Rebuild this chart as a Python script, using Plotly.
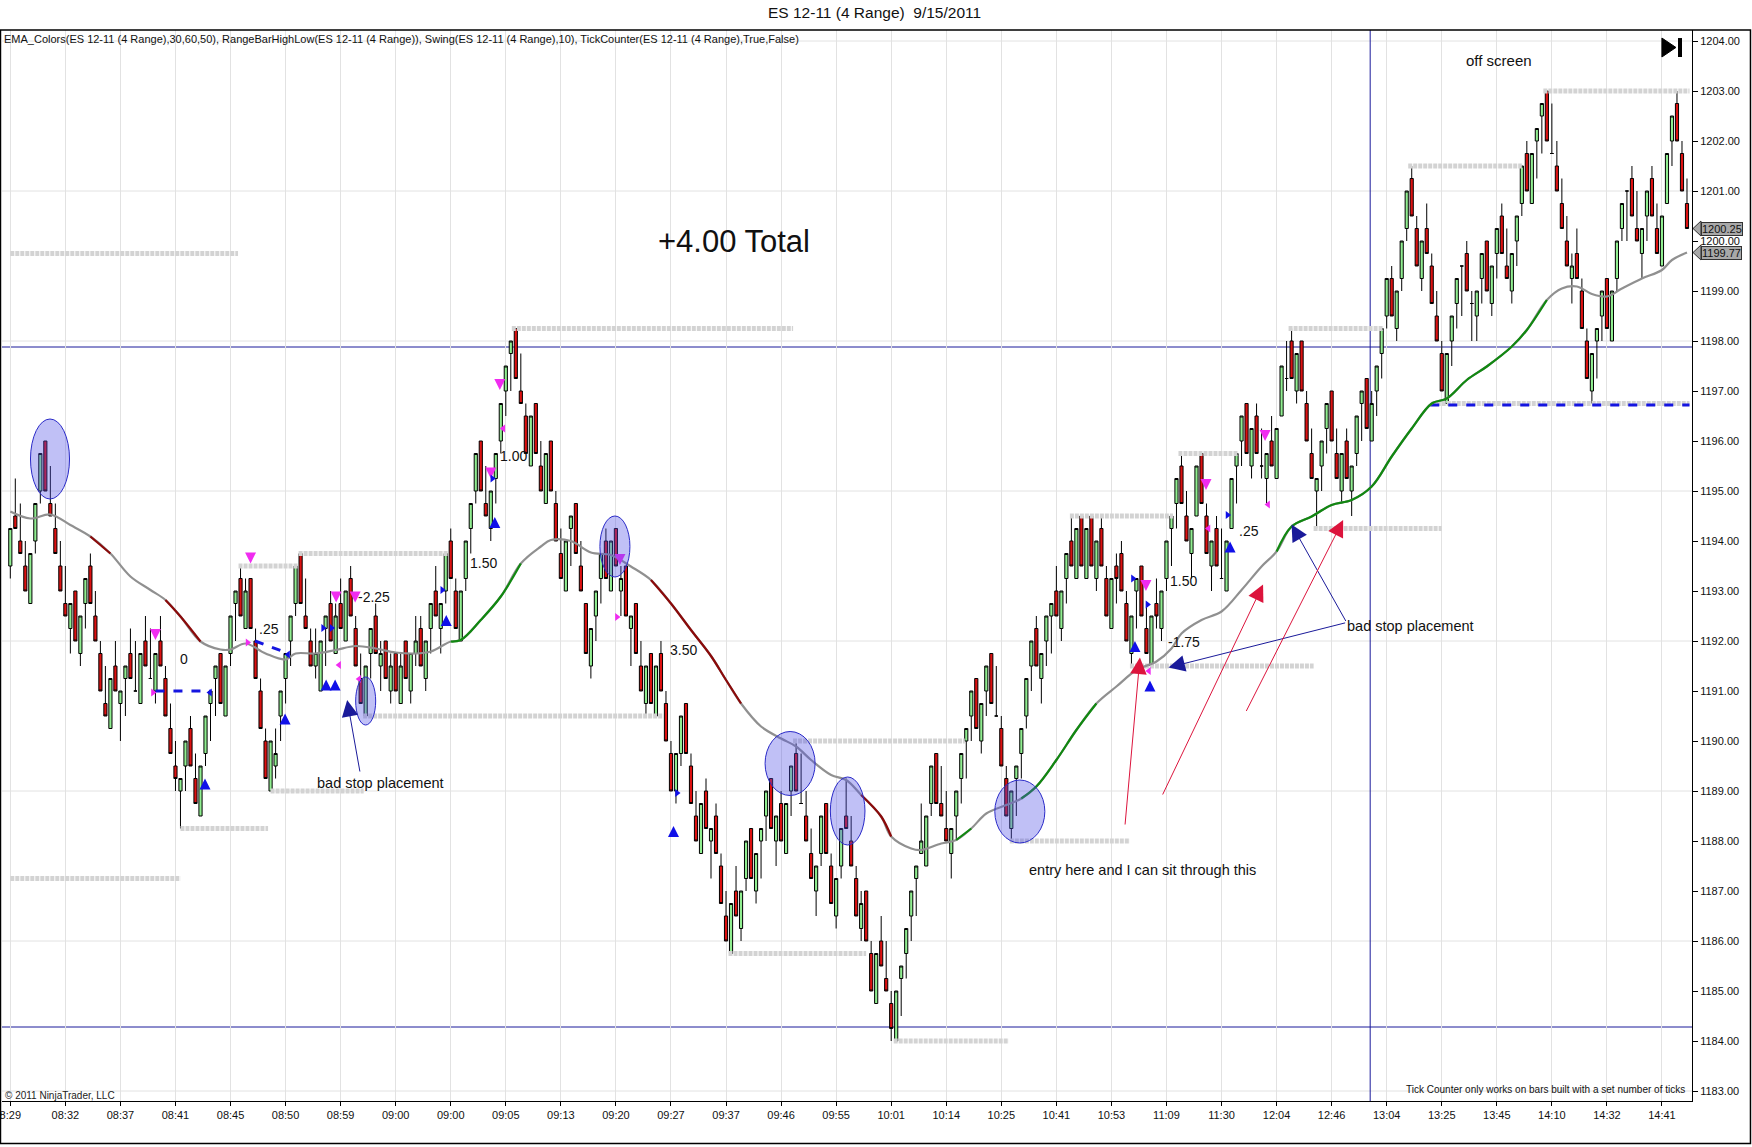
import plotly.graph_objects as go

# ES 12-11 (4 Range) 9/15/2011 - bar values
opens = [
    1193.5, 1194.5, 1194.0, 1193.5, 1192.75, 1194.0, 1195.0, 1196.0, 1194.75, 1194.25, 1193.5,
    1192.75, 1192.25, 1193.0, 1191.75, 1192.75, 1193.5, 1192.5, 1191.75, 1190.75, 1190.25, 1191.5,
    1190.75, 1191.25, 1191.75, 1191.0, 1190.75, 1192.0, 1191.25, 1191.0, 1192.0, 1191.25, 1190.25,
    1189.5, 1189.0, 1189.5, 1190.25, 1189.25, 1188.5, 1189.75, 1190.75, 1191.25, 1191.75, 1190.5,
    1191.75, 1192.75, 1193.25, 1192.25, 1193.25, 1192.0, 1191.0, 1190.0, 1189.0, 1189.5, 1190.5,
    1191.25, 1192.0, 1192.75, 1193.75, 1192.5, 1192.0, 1191.5, 1191.0, 1192.25, 1192.75, 1191.75,
    1192.75, 1192.0, 1193.25, 1192.25, 1191.25, 1190.5, 1191.75, 1192.5, 1191.5, 1192.0, 1191.0,
    1191.75, 1190.75, 1192.0, 1191.0, 1191.75, 1192.25, 1191.25, 1192.25, 1193.0, 1192.25, 1193.0,
    1194.0, 1193.0, 1192.0, 1193.25, 1194.25, 1195.0, 1196.0, 1194.75, 1194.25, 1195.25, 1196.0,
    1197.0, 1197.75, 1198.25, 1197.0, 1196.5, 1195.5, 1196.75, 1195.5, 1194.75, 1196.0, 1194.75,
    1193.75, 1193.0, 1194.25, 1194.75, 1193.5, 1192.75, 1191.5, 1192.5, 1193.25, 1194.0, 1193.0,
    1194.25, 1193.0, 1193.5, 1192.25, 1192.75, 1191.5, 1190.75, 1191.75, 1190.5, 1191.75, 1190.75,
    1189.75, 1189.0, 1189.75, 1190.75, 1189.5, 1188.5, 1187.75, 1189.0, 1188.0, 1188.5, 1187.5,
    1186.5, 1185.75, 1187.0, 1186.25, 1187.25, 1188.25, 1187.0, 1188.0, 1188.5, 1189.25, 1188.0,
    1188.75, 1187.75, 1189.0, 1189.75, 1188.75, 1188.5, 1187.75, 1187.0, 1187.75, 1188.75, 1187.5,
    1186.5, 1187.5, 1188.5, 1188.0, 1187.25, 1186.25, 1187.0, 1185.75, 1184.75, 1186.0, 1185.25,
    1184.75, 1184.0, 1185.25, 1185.75, 1186.5, 1187.25, 1187.75, 1187.5, 1188.75, 1189.75, 1188.75,
    1188.25, 1187.75, 1188.5, 1189.25, 1190.0, 1190.5, 1191.25, 1190.0, 1191.0, 1191.75, 1190.5,
    1190.25, 1189.25, 1188.25, 1189.25, 1189.75, 1190.5, 1191.5, 1192.25, 1191.25, 1192.0, 1192.5,
    1193.0, 1192.25, 1193.25, 1194.0, 1193.25, 1194.5, 1193.25, 1194.5, 1193.25, 1194.25, 1193.25,
    1192.25, 1193.5, 1193.75, 1192.75, 1191.75, 1193.0, 1193.5, 1192.25, 1191.5, 1192.75, 1192.25,
    1193.25, 1194.25, 1194.75, 1195.5, 1194.5, 1193.75, 1194.5, 1195.75, 1194.5, 1193.5, 1194.25,
    1193.25, 1193.0, 1194.25, 1195.5, 1196.0, 1196.75, 1195.5, 1196.5, 1195.5, 1195.25, 1196.0,
    1195.25, 1196.5, 1197.25, 1198.0, 1197.0, 1198.0, 1196.75, 1195.75, 1195.0, 1195.5, 1196.25,
    1197.0, 1195.75, 1195.0, 1196.0, 1195.0, 1195.75, 1196.75, 1197.25, 1196.0, 1197.0, 1197.75,
    1198.5, 1199.25, 1198.25, 1199.25, 1200.25, 1201.25, 1200.25, 1199.25, 1200.25, 1199.5, 1198.5,
    1197.75, 1196.75, 1198.0, 1198.75, 1199.5, 1199.75, 1198.75, 1198.5, 1199.25, 1200.0, 1198.75,
    1199.75, 1200.5, 1199.5, 1199.0, 1200.0, 1200.75, 1201.75, 1200.75, 1202.0, 1202.5, 1203.0,
    1201.75, 1201.5, 1200.75, 1200.0, 1199.25, 1199.75, 1199.0, 1198.0, 1197.0, 1198.0, 1198.5,
    1199.25, 1198.0, 1199.25, 1200.25, 1201.0, 1201.25, 1200.25, 1199.75, 1200.5, 1201.25, 1200.25,
    1199.5, 1200.75, 1202.0, 1202.75, 1201.75, 1200.75,
]
highs = [
    1194.25, 1195.25, 1194.75, 1194.0, 1193.75, 1194.75, 1195.75, 1196.0, 1195.5, 1194.75, 1194.0,
    1193.5, 1192.75, 1193.0, 1192.5, 1193.25, 1193.75, 1193.0, 1192.0, 1191.5, 1191.25, 1192.0,
    1191.0, 1191.5, 1192.25, 1192.0, 1191.75, 1192.5, 1192.25, 1191.75, 1192.5, 1191.5, 1190.75,
    1190.0, 1189.25, 1190.0, 1190.5, 1189.75, 1189.5, 1190.5, 1191.0, 1191.5, 1191.75, 1191.5,
    1192.5, 1193.0, 1193.5, 1193.25, 1193.25, 1192.25, 1191.25, 1190.25, 1190.0, 1190.25, 1191.0,
    1191.75, 1192.5, 1193.5, 1193.75, 1193.25, 1192.25, 1192.25, 1192.0, 1192.5, 1193.0, 1192.75,
    1193.25, 1193.0, 1193.5, 1192.5, 1191.75, 1191.5, 1192.25, 1192.75, 1192.0, 1192.0, 1191.75,
    1191.75, 1191.75, 1192.0, 1191.75, 1192.5, 1192.5, 1192.0, 1192.75, 1193.5, 1192.75, 1193.75,
    1194.25, 1193.25, 1193.0, 1194.0, 1194.75, 1195.75, 1196.0, 1195.5, 1195.0, 1195.75, 1196.75,
    1197.5, 1198.0, 1198.25, 1197.75, 1196.75, 1196.5, 1196.75, 1196.0, 1195.75, 1196.0, 1195.0,
    1194.25, 1194.0, 1194.5, 1194.75, 1194.0, 1192.75, 1192.25, 1193.0, 1193.75, 1194.25, 1194.0,
    1194.25, 1193.5, 1193.5, 1192.5, 1192.75, 1192.0, 1191.5, 1191.75, 1191.5, 1192.0, 1191.0,
    1190.0, 1189.75, 1190.5, 1190.75, 1189.75, 1189.0, 1188.75, 1189.25, 1188.25, 1188.75, 1187.75,
    1187.0, 1186.75, 1187.5, 1187.0, 1188.0, 1188.25, 1187.75, 1188.25, 1189.0, 1189.25, 1188.5,
    1189.0, 1188.75, 1189.5, 1190.0, 1189.75, 1189.0, 1188.25, 1187.5, 1188.5, 1188.75, 1187.75,
    1187.25, 1188.25, 1189.25, 1188.5, 1187.5, 1187.0, 1187.0, 1186.0, 1185.75, 1186.5, 1186.0,
    1185.0, 1185.0, 1185.5, 1186.25, 1187.0, 1187.5, 1188.75, 1188.5, 1189.5, 1189.75, 1189.5,
    1189.0, 1188.25, 1189.0, 1189.75, 1190.25, 1191.0, 1191.25, 1190.75, 1191.5, 1191.75, 1191.5,
    1190.5, 1189.5, 1189.0, 1189.5, 1190.25, 1191.25, 1192.0, 1192.5, 1191.75, 1192.5, 1192.75,
    1193.5, 1193.0, 1193.75, 1194.5, 1194.25, 1194.5, 1194.25, 1194.5, 1194.0, 1194.5, 1193.5,
    1193.25, 1193.75, 1194.0, 1193.0, 1192.5, 1193.25, 1193.5, 1192.75, 1192.5, 1193.25, 1193.0,
    1194.0, 1194.5, 1195.25, 1195.75, 1195.0, 1194.25, 1195.5, 1195.75, 1194.75, 1194.0, 1194.5,
    1194.25, 1194.0, 1195.25, 1195.75, 1196.5, 1196.75, 1196.25, 1196.75, 1196.25, 1195.75, 1196.5,
    1196.25, 1197.5, 1198.0, 1198.25, 1197.75, 1198.0, 1197.0, 1196.25, 1195.25, 1196.0, 1196.75,
    1197.0, 1196.25, 1195.75, 1196.25, 1195.5, 1196.5, 1197.0, 1197.25, 1197.0, 1197.5, 1198.25,
    1199.25, 1199.5, 1199.0, 1200.0, 1201.0, 1201.5, 1200.5, 1200.0, 1200.75, 1199.75, 1199.0,
    1198.0, 1197.75, 1198.5, 1199.25, 1199.5, 1200.0, 1199.0, 1199.0, 1199.75, 1200.0, 1199.5,
    1200.25, 1200.75, 1200.25, 1199.75, 1200.5, 1201.5, 1202.0, 1201.75, 1202.25, 1202.75, 1203.0,
    1202.75, 1202.0, 1201.25, 1200.5, 1199.75, 1200.25, 1199.25, 1198.25, 1197.75, 1198.25, 1199.0,
    1199.25, 1199.0, 1200.0, 1200.75, 1201.0, 1201.5, 1201.0, 1200.25, 1201.0, 1201.5, 1200.75,
    1200.5, 1201.75, 1202.5, 1203.0, 1202.0, 1201.25,
]
lows = [
    1193.25, 1194.25, 1193.75, 1193.0, 1192.75, 1193.75, 1194.75, 1195.0, 1194.5, 1193.75, 1193.0,
    1192.5, 1191.75, 1192.0, 1191.5, 1192.25, 1192.75, 1192.0, 1191.0, 1190.5, 1190.25, 1191.0,
    1190.0, 1190.5, 1191.25, 1191.0, 1190.75, 1191.5, 1191.25, 1190.75, 1191.5, 1190.5, 1189.75,
    1189.0, 1188.25, 1189.0, 1189.5, 1188.75, 1188.5, 1189.5, 1190.0, 1190.5, 1190.75, 1190.5,
    1191.5, 1192.0, 1192.5, 1192.25, 1192.25, 1191.25, 1190.25, 1189.25, 1189.0, 1189.25, 1190.0,
    1190.75, 1191.5, 1192.5, 1192.75, 1192.25, 1191.5, 1191.25, 1191.0, 1191.5, 1192.0, 1191.75,
    1192.25, 1192.0, 1192.5, 1191.5, 1190.75, 1190.5, 1191.25, 1191.75, 1191.0, 1191.25, 1190.75,
    1191.0, 1190.75, 1191.25, 1190.75, 1191.5, 1191.5, 1191.0, 1191.75, 1192.5, 1191.75, 1192.75,
    1193.25, 1192.25, 1192.0, 1193.0, 1193.75, 1194.75, 1195.0, 1194.5, 1194.0, 1194.75, 1195.75,
    1196.5, 1197.0, 1197.25, 1196.75, 1195.75, 1195.5, 1195.75, 1195.0, 1194.75, 1195.0, 1194.0,
    1193.25, 1193.0, 1193.5, 1193.75, 1193.0, 1191.75, 1191.25, 1192.0, 1192.75, 1193.25, 1193.0,
    1193.5, 1192.5, 1192.5, 1191.5, 1191.75, 1191.0, 1190.5, 1190.75, 1190.5, 1191.0, 1190.0,
    1189.0, 1188.75, 1189.5, 1189.75, 1188.75, 1188.0, 1187.75, 1188.25, 1187.25, 1187.75, 1186.75,
    1186.0, 1185.75, 1186.5, 1186.0, 1187.0, 1187.25, 1186.75, 1187.25, 1188.0, 1188.25, 1187.5,
    1188.0, 1187.75, 1188.5, 1189.0, 1188.75, 1188.0, 1187.25, 1186.5, 1187.5, 1187.75, 1186.75,
    1186.25, 1187.25, 1188.25, 1187.5, 1186.5, 1186.0, 1186.0, 1185.0, 1184.75, 1185.5, 1185.0,
    1184.0, 1184.0, 1184.5, 1185.25, 1186.0, 1186.5, 1187.75, 1187.5, 1188.5, 1188.75, 1188.5,
    1188.0, 1187.25, 1188.0, 1188.75, 1189.25, 1190.0, 1190.25, 1189.75, 1190.5, 1190.75, 1190.5,
    1189.5, 1188.5, 1188.0, 1188.5, 1189.25, 1190.25, 1191.0, 1191.5, 1190.75, 1191.5, 1191.75,
    1192.5, 1192.0, 1192.75, 1193.5, 1193.25, 1193.5, 1193.25, 1193.5, 1193.0, 1193.5, 1192.5,
    1192.25, 1192.75, 1193.0, 1192.0, 1191.5, 1192.25, 1192.5, 1191.75, 1191.5, 1192.25, 1192.0,
    1193.0, 1193.5, 1194.25, 1194.75, 1194.0, 1193.25, 1194.5, 1194.75, 1193.75, 1193.0, 1193.5,
    1193.25, 1193.0, 1194.25, 1194.75, 1195.5, 1195.75, 1195.25, 1195.75, 1195.25, 1194.75, 1195.5,
    1195.25, 1196.5, 1197.0, 1197.25, 1196.75, 1197.0, 1196.0, 1195.25, 1194.25, 1195.0, 1195.75,
    1196.0, 1195.25, 1194.75, 1195.25, 1194.5, 1195.5, 1196.0, 1196.25, 1196.0, 1196.5, 1197.25,
    1198.25, 1198.5, 1198.0, 1199.0, 1200.0, 1200.5, 1199.5, 1199.0, 1199.75, 1198.75, 1198.0,
    1197.0, 1196.75, 1197.5, 1198.25, 1198.5, 1199.0, 1198.0, 1198.0, 1198.75, 1199.0, 1198.5,
    1199.25, 1199.75, 1199.25, 1198.75, 1199.5, 1200.5, 1201.0, 1200.75, 1201.25, 1201.75, 1202.0,
    1201.75, 1201.0, 1200.25, 1199.5, 1198.75, 1199.25, 1198.25, 1197.25, 1196.75, 1197.25, 1198.0,
    1198.25, 1198.0, 1199.0, 1200.0, 1200.0, 1200.5, 1200.0, 1199.25, 1200.0, 1200.5, 1199.75,
    1199.5, 1200.75, 1201.5, 1202.0, 1201.0, 1200.25,
]
closes = [
    1194.25, 1194.25, 1193.75, 1193.0, 1193.75, 1194.75, 1195.75, 1195.0, 1194.5, 1193.75, 1193.0,
    1192.5, 1192.75, 1192.0, 1192.5, 1193.25, 1192.75, 1192.0, 1191.0, 1190.5, 1191.25, 1191.0,
    1191.0, 1191.5, 1191.25, 1191.0, 1191.75, 1191.5, 1191.25, 1191.75, 1191.5, 1190.5, 1189.75,
    1189.25, 1189.25, 1190.0, 1189.5, 1188.75, 1189.5, 1190.5, 1191.0, 1191.5, 1190.75, 1191.5,
    1192.5, 1193.0, 1192.5, 1193.0, 1192.25, 1191.25, 1190.25, 1189.25, 1190.0, 1189.75, 1191.0,
    1191.75, 1192.5, 1193.5, 1192.75, 1192.25, 1191.5, 1191.75, 1192.0, 1192.5, 1192.0, 1192.5,
    1192.25, 1193.0, 1192.5, 1191.5, 1190.75, 1191.5, 1192.25, 1191.75, 1191.75, 1191.25, 1191.5,
    1191.0, 1191.5, 1191.25, 1191.75, 1192.0, 1191.5, 1192.0, 1192.75, 1192.5, 1192.75, 1193.75,
    1193.25, 1192.25, 1193.0, 1194.0, 1194.75, 1195.75, 1195.0, 1194.5, 1195.0, 1195.75, 1196.75,
    1197.5, 1198.0, 1197.25, 1196.75, 1195.75, 1196.5, 1195.75, 1195.0, 1195.75, 1195.0, 1194.0,
    1193.25, 1194.0, 1194.5, 1193.75, 1193.0, 1191.75, 1192.25, 1193.0, 1193.75, 1193.25, 1194.0,
    1193.5, 1193.25, 1192.5, 1192.5, 1191.75, 1191.0, 1191.5, 1190.75, 1191.5, 1191.0, 1190.0,
    1189.0, 1189.75, 1190.5, 1189.75, 1188.75, 1188.0, 1188.75, 1188.25, 1188.25, 1187.75, 1186.75,
    1186.0, 1186.75, 1186.5, 1187.0, 1188.0, 1187.25, 1187.75, 1188.25, 1189.0, 1188.25, 1188.5,
    1188.0, 1188.75, 1189.5, 1189.0, 1188.75, 1188.0, 1187.25, 1187.5, 1188.5, 1187.75, 1186.75,
    1187.25, 1188.25, 1188.25, 1187.5, 1186.5, 1186.75, 1186.0, 1185.0, 1185.75, 1185.5, 1185.0,
    1184.25, 1185.0, 1185.5, 1186.25, 1187.0, 1187.5, 1188.0, 1188.5, 1189.5, 1188.75, 1188.5,
    1188.0, 1188.25, 1189.0, 1189.75, 1190.25, 1191.0, 1190.25, 1190.75, 1191.5, 1190.75, 1190.5,
    1189.5, 1188.5, 1189.0, 1189.5, 1190.25, 1191.25, 1192.0, 1191.5, 1191.75, 1192.5, 1192.75,
    1192.5, 1193.0, 1193.75, 1193.5, 1194.25, 1193.5, 1194.25, 1193.5, 1194.0, 1193.5, 1192.5,
    1193.25, 1193.25, 1193.0, 1192.0, 1192.5, 1193.25, 1192.5, 1191.75, 1192.5, 1192.5, 1193.0,
    1194.0, 1194.5, 1195.25, 1194.75, 1194.0, 1194.25, 1195.5, 1194.75, 1193.75, 1194.0, 1193.5,
    1193.25, 1194.0, 1195.25, 1195.75, 1196.5, 1195.75, 1196.25, 1195.75, 1195.5, 1195.75, 1195.5,
    1196.25, 1197.5, 1197.25, 1197.25, 1197.75, 1197.0, 1196.0, 1195.25, 1195.25, 1196.0, 1196.75,
    1196.0, 1195.25, 1195.75, 1195.25, 1195.5, 1196.5, 1197.0, 1196.25, 1196.75, 1197.5, 1198.25,
    1199.25, 1198.5, 1199.0, 1200.0, 1201.0, 1200.5, 1199.5, 1200.0, 1199.75, 1198.75, 1198.0,
    1197.0, 1197.75, 1198.5, 1199.25, 1199.5, 1199.0, 1198.75, 1199.0, 1199.75, 1199.0, 1199.5,
    1200.25, 1199.75, 1199.25, 1199.75, 1200.5, 1201.5, 1201.0, 1201.75, 1202.25, 1202.75, 1202.0,
    1201.75, 1201.0, 1200.25, 1199.5, 1199.5, 1199.25, 1198.25, 1197.25, 1197.75, 1198.25, 1199.0,
    1198.25, 1199.0, 1200.0, 1200.75, 1201.0, 1200.5, 1200.0, 1200.25, 1201.0, 1200.5, 1199.75,
    1200.5, 1201.75, 1202.5, 1202.0, 1201.0, 1200.25,
]

# time stamp shown every 11th bar
time_labels = ["8:29", "08:32", "08:37", "08:41", "08:45", "08:50", "08:59", "09:00", "09:00",
               "09:05", "09:13", "09:20", "09:27", "09:37", "09:46", "09:55", "10:01", "10:14",
               "10:25", "10:41", "10:53", "11:09", "11:30", "12:04", "12:46", "13:04", "13:25",
               "13:45", "14:10", "14:32", "14:41"]
label_step = 11

# EMA read at sample bars
ema_bar = [0, 4, 8, 12, 16, 20, 24, 28, 31, 34, 38, 42, 44, 47, 51, 55, 57, 61, 65, 69,
           73, 77, 81, 84, 88, 90, 94, 98, 102, 106, 108, 112, 116, 120, 124, 128, 132, 136, 140,
           143, 146, 150, 154, 157, 160, 164, 167, 170, 174, 176, 180, 182, 186, 189, 192, 195,
           199, 202, 205, 209, 213, 217, 221, 225, 229, 232, 234, 238, 242, 246, 250, 253, 256,
           260, 264, 268, 272, 276, 280, 284, 287, 291, 295, 300, 303, 307, 310, 313, 316, 319,
           322, 326, 330, 332, 335]
ema_value = [1194.59, 1194.45, 1194.53, 1194.32, 1194.09, 1193.75, 1193.29, 1193.02, 1192.82,
             1192.49, 1191.99, 1191.83, 1191.83, 1191.95, 1191.75, 1191.63, 1191.75, 1191.75,
             1191.82, 1191.9, 1191.85, 1191.77, 1191.75, 1191.79, 1191.99, 1192.02, 1192.42,
             1192.89, 1193.55, 1193.89, 1194.02, 1194.0, 1193.77, 1193.72, 1193.49, 1193.22,
             1192.75, 1192.22, 1191.7, 1191.22, 1190.75, 1190.29, 1190.05, 1189.89, 1189.62,
             1189.32, 1189.22, 1188.92, 1188.49, 1188.09, 1187.85, 1187.82, 1187.95, 1188.02,
             1188.25, 1188.55, 1188.72, 1188.85, 1189.09, 1189.62, 1190.22, 1190.75, 1191.09,
             1191.42, 1191.59, 1191.85, 1192.15, 1192.42, 1192.59, 1193.02, 1193.49, 1193.79,
             1194.29, 1194.49, 1194.72, 1194.82, 1195.09, 1195.69, 1196.25, 1196.75, 1196.85,
             1197.22, 1197.49, 1197.89, 1198.22, 1198.82, 1199.05, 1199.09, 1198.94, 1198.89,
             1199.05, 1199.25, 1199.42, 1199.62, 1199.77]
ema_rising = [(88, 102), (189, 192), (202, 217), (253, 307)]
ema_falling = [(16, 20), (31, 38), (128, 146), (170, 176)]

# RangeBarHighLow / Swing levels: start bar, end bar, price
swing_start = [0, 0, 34, 52, 45.6, 57.6, 70.5, 100.2, 156.4, 143.5, 176.5, 199.7, 211.7,
               223.7, 233.4, 255.4, 260.4, 279.3, 306.3, 284]
swing_end = [45.5, 34, 51.5, 70.6, 57.6, 87.5, 130.5, 156.4, 190.7, 171, 199.5, 223.7, 232.3,
             260.4, 245.4, 274.4, 286, 302, 335.5, 335.5]
swing_price = [1199.75, 1187.25, 1188.25, 1189.0, 1193.5, 1193.75, 1190.5, 1198.25, 1190.0,
               1185.75, 1184.0, 1188.0, 1194.5, 1191.5, 1195.75, 1198.25, 1194.25, 1201.5,
               1203.0, 1196.75]

# trade lines (blue dashed)
trade_x0 = [29, 48.9, 283.7]
trade_x1 = [40, 55.6, 335.5]
trade_y0 = [1191.0, 1192.0, 1196.72]
trade_y1 = [1191.0, 1191.75, 1196.72]

# swing / tick counter markers
pink_down_bar = [29, 48, 65.1, 68.9, 96, 97.8, 121.8, 226.9, 238.9, 250.7]
pink_down_price = [1192.02, 1193.55, 1192.77, 1192.77, 1195.25, 1197.02, 1193.52, 1193.0, 1195.02, 1196.0]
blue_up_bar = [38.9, 54.9, 63.1, 64.9, 87.1, 96.8, 132.5, 224.7, 227.7, 243.7]
blue_up_price = [1189.25, 1190.55, 1191.23, 1191.23, 1192.52, 1194.48, 1188.3, 1192.0, 1191.21, 1193.99]
pink_right_bar = [28.5, 47.4, 121.2]
pink_right_price = [1190.97, 1191.97, 1192.48]
pink_left_bar = [65.7, 69.7, 98.5, 239.4, 251.3, 227.5]
pink_left_price = [1191.52, 1191.24, 1196.25, 1194.25, 1194.73, 1191.4]
blue_right_bar = [62.5, 64.2, 86.3, 96.3, 133.2, 224.3, 227.2, 243.2]
blue_right_price = [1192.26, 1192.26, 1193.02, 1195.25, 1188.96, 1193.25, 1192.73, 1194.52]
blue_left_bar = [39.9, 55.5]
blue_left_price = [1190.97, 1191.73]

# trade results written on the chart
result_bar = [34.7, 51.7, 72.7, 94.6, 100.6, 134.6, 234.5, 234.5, 247.5]
result_price = [1191.64, 1192.24, 1192.88, 1193.56, 1195.7, 1191.82, 1193.2, 1191.98, 1194.2]
result_text = ["0", ".25", "-2.25", "1.50", "1.00", "3.50", "1.50", "-1.75", ".25"]

last_price = 1200.25
last_ema = 1199.77

FONT = "Liberation Sans, Arial, sans-serif"
GREEN = "#90EE90"
RED = "#DD1111"
NAVY = "#1A1A9A"

bars = list(range(len(opens)))

fig = go.Figure()

# swing level lines (drawn first, behind candles)
sx, sy = [], []
for a, b, p in zip(swing_start, swing_end, swing_price):
    sx += [a, b, None]
    sy += [p, p, None]
fig.add_trace(go.Scatter(x=sx, y=sy, mode="lines", hoverinfo="skip",
                         line=dict(color="#D3D3D3", width=5, dash="4px,1px")))

tx, ty = [], []
for a, b, p, q in zip(trade_x0, trade_x1, trade_y0, trade_y1):
    tx += [a, b, None]
    ty += [p, q, None]
fig.add_trace(go.Scatter(x=tx, y=ty, mode="lines", hoverinfo="skip",
                         line=dict(color="#1515E0", width=3, dash="dash")))

fig.add_trace(go.Candlestick(
    x=bars, open=opens, high=highs, low=lows, close=closes,
    increasing=dict(fillcolor=GREEN, line=dict(color="black", width=1)),
    decreasing=dict(fillcolor=RED, line=dict(color="black", width=1)),
    whiskerwidth=0, hoverinfo="skip",
))

# EMA line with coloured slope segments
fig.add_trace(go.Scatter(x=ema_bar, y=ema_value, mode="lines", hoverinfo="skip",
                         line=dict(color="#909090", width=2.2, shape="spline")))
for ranges, col in ((ema_rising, "#118811"), (ema_falling, "#8B0A0A")):
    for a, b in ranges:
        xs = [x for x in ema_bar if a <= x <= b]
        ys = [v for x, v in zip(ema_bar, ema_value) if a <= x <= b]
        fig.add_trace(go.Scatter(x=xs, y=ys, mode="lines", hoverinfo="skip",
                                 line=dict(color=col, width=2.2, shape="spline")))

markers = [
    (pink_down_bar, pink_down_price, "arrow-down", "#F02CF0"),
    (blue_up_bar, blue_up_price, "arrow-up", "#1010E8"),
    (pink_right_bar, pink_right_price, "triangle-right", "#F02CF0"),
    (pink_left_bar, pink_left_price, "triangle-left", "#F02CF0"),
    (blue_right_bar, blue_right_price, "triangle-right", "#1010E8"),
    (blue_left_bar, blue_left_price, "triangle-left", "#1010E8"),
]
for xs, ys, sym, col in markers:
    size = 11 if sym.startswith("arrow") else 7
    fig.add_trace(go.Scatter(x=xs, y=ys, mode="markers", hoverinfo="skip",
                             marker=dict(symbol=sym, size=size, color=col,
                                         line=dict(width=0))))

shapes = []
# horizontal grid every 3 points
for p in range(1183, 1205, 3):
    shapes.append(dict(type="line", xref="paper", x0=0, x1=1, yref="y", y0=p, y1=p,
                       line=dict(color="#E2E2E2", width=1), layer="below"))
# drawing-tool lines
for p in (1197.88, 1184.28):
    shapes.append(dict(type="line", xref="paper", x0=0, x1=1, yref="y", y0=p, y1=p,
                       line=dict(color=NAVY, width=1), layer="below"))
shapes.append(dict(type="line", xref="x", x0=271.7, x1=271.7, yref="paper", y0=0, y1=1,
                   line=dict(color=NAVY, width=1), layer="below"))

# ellipses around entries
for cx, cy, rx, ry in [(7.93, 1195.64, 3.9, 0.8), (120.8, 1193.89, 3.0, 0.61),
                       (71.0, 1190.8, 2.0, 0.48), (155.8, 1189.55, 5.0, 0.64),
                       (167.3, 1188.6, 3.46, 0.68), (201.7, 1188.59, 5.0, 0.63)]:
    shapes.append(dict(type="circle", xref="x", yref="y", x0=cx - rx, x1=cx + rx,
                       y0=cy - ry, y1=cy + ry, fillcolor="rgba(80,80,230,0.36)",
                       line=dict(color="#2A2AC8", width=1)))

# outer frame
shapes.append(dict(type="rect", xref="paper", yref="paper", x0=-0.0009, x1=1.0346,
                   y0=-0.0397, y1=1.0, line=dict(color="black", width=1.5)))
# go-to-end icon
shapes.append(dict(type="path", xref="paper", yref="paper",
                   path="M 0.9822,0.9925 L 0.9905,0.9837 L 0.9822,0.9748 Z",
                   fillcolor="black", line=dict(color="black", width=1)))
shapes.append(dict(type="rect", xref="paper", yref="paper", x0=0.9917, x1=0.9941,
                   y0=0.9748, y1=0.9925, fillcolor="black", line=dict(width=0)))
# price marker pointers
for p in (last_price, last_ema):
    shapes.append(dict(type="path", xref="paper", yref="y",
                       path=f"M 1.0006,{p} L 1.0053,{p + 0.15} L 1.0053,{p - 0.15} Z",
                       fillcolor="#A8A8A8", line=dict(color="#333333", width=1)))

ann = []
for b, p, t in zip(result_bar, result_price, result_text):
    ann.append(dict(x=b, y=p, text=t, showarrow=False, font=dict(size=14, color="#111")))

notes = [
    (144.6, 1200.0, "+4.00 Total", 31),
    (297.4, 1203.62, "off screen", 15),
    (73.9, 1189.17, "bad stop placement", 14.5),
    (279.7, 1192.31, "bad stop placement", 14.5),
    (226.3, 1187.42, "entry here and I can sit through this", 14.5),
]
for b, p, t, s in notes:
    ann.append(dict(x=b, y=p, text=t, showarrow=False, font=dict(size=s, color="#111")))

callouts = [
    (69.9, 1189.36, 67.3, 1190.82, NAVY),
    (267.0, 1192.37, 256.0, 1194.33, NAVY),
    (267.0, 1192.37, 231.4, 1191.47, NAVY),
    (222.7, 1188.3, 225.7, 1191.67, "#DC143C"),
    (230.1, 1188.9, 250.3, 1193.13, "#DC143C"),
    (246.8, 1190.57, 266.3, 1194.42, "#DC143C"),
]
for x0, y0, x1, y1, col in callouts:
    ann.append(dict(x=x1, y=y1, ax=x0, ay=y0, axref="x", ayref="y", text="",
                    showarrow=True, arrowhead=2, arrowsize=3.3, arrowwidth=1,
                    arrowcolor=col, standoff=0))

ann += [
    dict(xref="paper", yref="paper", x=0.516, y=1.0159, yanchor="middle",
         text="ES 12-11 (4 Range)  9/15/2011",
         showarrow=False, font=dict(size=15.5, color="#111")),
    dict(xref="paper", yref="paper", x=0.0, y=0.9916, xanchor="left", yanchor="middle",
         text="EMA_Colors(ES 12-11 (4 Range),30,60,50), RangeBarHighLow(ES 12-11 (4 Range)), "
              "Swing(ES 12-11 (4 Range),10), TickCounter(ES 12-11 (4 Range),True,False)",
         showarrow=False, font=dict(size=11, color="#111")),
    dict(xref="paper", yref="paper", x=0.0006, y=0.0056, xanchor="left", yanchor="middle",
         text="© 2011 NinjaTrader, LLC", showarrow=False, font=dict(size=10, color="#222")),
    dict(xref="paper", yref="paper", x=0.997, y=0.0112, xanchor="right", yanchor="middle",
         text="Tick Counter only works on bars built with a set number of ticks",
         showarrow=False, font=dict(size=10, color="#111")),
]
for p in (last_price, last_ema):
    ann.append(dict(xref="paper", yref="y", x=1.0053, y=p, xanchor="left",
                    text=f"{p:.2f}", showarrow=False, bgcolor="#A8A8A8",
                    bordercolor="#333333", borderwidth=1, borderpad=0,
                    font=dict(size=11, color="#111")))

fig.update_layout(
    width=1752, height=1147,
    margin=dict(l=2, r=60, t=30, b=46, autoexpand=False),
    paper_bgcolor="white", plot_bgcolor="white",
    showlegend=False, boxgap=0.1,
    font=dict(family=FONT, size=11, color="#111"),
    shapes=shapes, annotations=ann,
    xaxis=dict(range=[-1.66, 336.0], rangeslider=dict(visible=False), automargin=False,
               tickvals=[i * label_step for i in range(len(time_labels))],
               ticktext=time_labels, ticklabeloverflow="allow",
               showgrid=True, gridcolor="#E2E2E2", gridwidth=1,
               zeroline=False, showline=True, linecolor="black", linewidth=1,
               ticks="outside", ticklen=4, tickcolor="black",
               tickfont=dict(size=11, family=FONT)),
    yaxis=dict(range=[1182.8, 1204.22], side="right", dtick=1, tick0=1183, automargin=False,
               tickformat=".2f", showgrid=False, zeroline=False,
               showline=True, linecolor="black", linewidth=1,
               ticks="outside", ticklen=5, tickcolor="black",
               tickfont=dict(size=11, family=FONT)),
)

# page body has a default 8px margin; drop it so the figure sits at the window corner
fig.write_html("out.html", config={"displayModeBar": False},
               post_script="document.body.style.margin='0';")
